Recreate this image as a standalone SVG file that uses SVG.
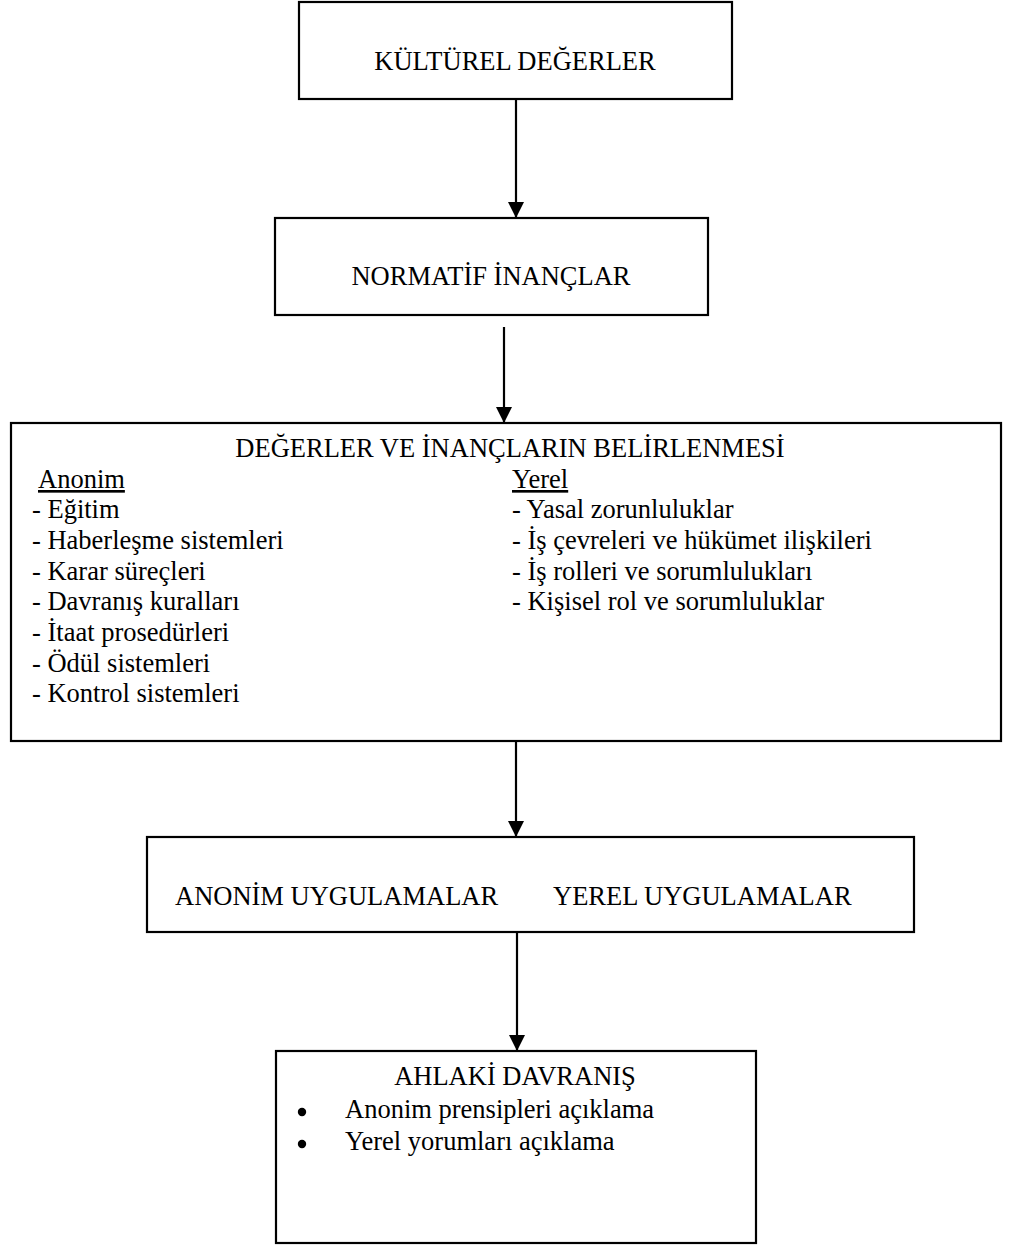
<svg xmlns="http://www.w3.org/2000/svg" width="1032" height="1246" viewBox="0 0 1032 1246">
  <style>
    .box { fill: #ffffff; stroke: #000000; stroke-width: 2.2; }
    .t { font-family: "Liberation Serif", "Times New Roman", serif; font-size: 26.5px; fill: #000000; }
    .c { text-anchor: middle; }
    .u { text-decoration: underline; }
    .conn { stroke: #000000; stroke-width: 2.2; fill: none; marker-end: url(#arrow); }
  </style>
  <defs>
    <marker id="arrow" markerUnits="userSpaceOnUse" markerWidth="16" markerHeight="16" viewBox="0 0 16 16" refX="16" refY="8" orient="auto">
      <path d="M0,0 L16,8 L0,16 Z" fill="#000000"/>
    </marker>
  </defs>
  <rect width="1032" height="1246" fill="#ffffff"/>

  <g id="connectors">
    <line class="conn" x1="516" y1="99" x2="516" y2="218"/>
    <line class="conn" x1="504" y1="327" x2="504" y2="423"/>
    <line class="conn" x1="516" y1="741" x2="516" y2="837"/>
    <line class="conn" x1="517" y1="932" x2="517" y2="1051"/>
  </g>

  <g id="kulturel-degerler">
    <rect class="box" x="299" y="2" width="433" height="97"/>
    <text class="t c" x="515" y="70">KÜLTÜREL DEĞERLER</text>
  </g>

  <g id="normatif-inanclar">
    <rect class="box" x="275" y="218" width="433" height="97"/>
    <text class="t c" x="491" y="285">NORMATİF İNANÇLAR</text>
  </g>

  <g id="degerler-inanclar">
    <rect class="box" x="11" y="423" width="990" height="318"/>
    <text class="t c" x="510" y="457">DEĞERLER VE İNANÇLARIN BELİRLENMESİ</text>
    <text class="t u" x="38" y="488">Anonim</text>
    <text class="t" x="32" y="518">- Eğitim</text>
    <text class="t" x="32" y="549">- Haberleşme sistemleri</text>
    <text class="t" x="32" y="580">- Karar süreçleri</text>
    <text class="t" x="32" y="610">- Davranış kuralları</text>
    <text class="t" x="32" y="641">- İtaat prosedürleri</text>
    <text class="t" x="32" y="672">- Ödül sistemleri</text>
    <text class="t" x="32" y="702">- Kontrol sistemleri</text>
    <text class="t u" x="512" y="488">Yerel</text>
    <text class="t" x="512" y="518">- Yasal zorunluluklar</text>
    <text class="t" x="512" y="549">- İş çevreleri ve hükümet ilişkileri</text>
    <text class="t" x="512" y="580">- İş rolleri ve sorumlulukları</text>
    <text class="t" x="512" y="610">- Kişisel rol ve sorumluluklar</text>
  </g>

  <g id="uygulamalar">
    <rect class="box" x="147" y="837" width="767" height="95"/>
    <text class="t" x="175" y="905">ANONİM UYGULAMALAR</text>
    <text class="t" x="553" y="905">YEREL UYGULAMALAR</text>
  </g>

  <g id="ahlaki-davranis">
    <rect class="box" x="276" y="1051" width="480" height="192"/>
    <text class="t c" x="515" y="1085">AHLAKİ DAVRANIŞ</text>
    <circle cx="302" cy="1112" r="4.2" fill="#000000"/>
    <text class="t" x="345" y="1118">Anonim prensipleri açıklama</text>
    <circle cx="302" cy="1144" r="4.2" fill="#000000"/>
    <text class="t" x="345" y="1150">Yerel yorumları açıklama</text>
  </g>
</svg>
